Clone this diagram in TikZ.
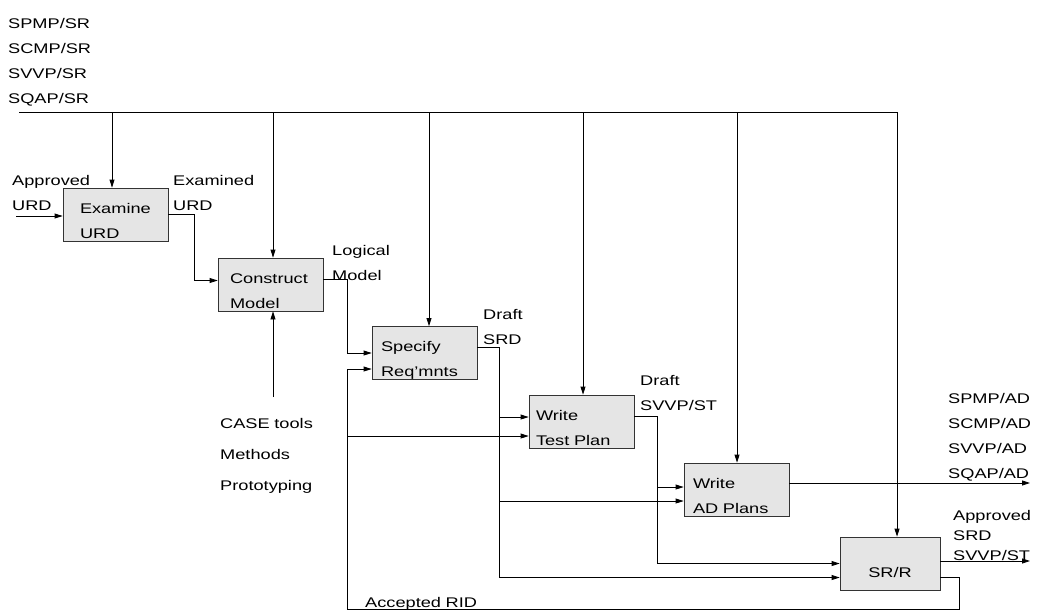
\documentclass[tikz,border=0pt]{standalone}
\usepackage{fontspec}
\setmainfont{Liberation Sans}[FakeStretch=1.3]
\usetikzlibrary{arrows.meta}

\tikzset{
  proc/.style={draw=black!80, fill=black!10, line width=0.8pt, inner ysep=0pt,
    inner xsep=9pt, text width=87pt, align=left, text height=25pt, text depth=28pt},
  lbl/.style={anchor=base west, inner sep=0pt, text width=150pt, align=left},
  wire/.style={line width=0.8pt},
  flow/.style={wire, -{Triangle[length=8pt,width=5pt]}},
}

\begin{document}
\begin{tikzpicture}[x=1pt, y=-1pt, font=\fontsize{14}{25}\selectfont]
  \useasboundingbox (0,0) rectangle (1038,613);
  % activities
  \node[proc, text width=71pt, inner xsep=17pt] (exam) at (115.5,214.5) {Examine\\URD};
  \node[proc, text width=81pt, inner xsep=12pt] (cons) at (270.5,284.5) {Construct\\Model};
  \node[proc] (spec) at (424.5,353) {Specify\\Req'mnts};
  \node[proc, text width=91pt, inner xsep=7pt] (test) at (581.5,421.5) {Write\\Test Plan};
  \node[proc] (adpl) at (736.5,489.5) {Write\\AD Plans};
  \node[proc, text width=100pt, inner xsep=0pt, align=center, text height=40pt,
    text depth=13pt] (srr) at (890,563.5) {SR/R};

  % texts
  \node[lbl] (srplans) at (8,28) {SPMP/SR\\SCMP/SR\\SVVP/SR\\SQAP/SR};
  \node[lbl] (urdin) at (12,185) {Approved\\URD};
  \node[lbl] (urdout) at (173,185) {Examined\\URD};
  \node[lbl] (modout) at (332,255) {Logical\\Model};
  \node[lbl] (srdout) at (483,319) {Draft\\SRD};
  \node[lbl] (stout) at (640,385) {Draft\\SVVP/ST};
  \node[lbl] (adplans) at (948,403) {SPMP/AD\\SCMP/AD\\SVVP/AD\\SQAP/AD};
  \node[lbl, font=\fontsize{14}{20}\selectfont] (srrout) at (953,520) {Approved\\SRD\\SVVP/ST};
  \node[lbl, font=\fontsize{14}{31}\selectfont] (tools) at (220,428) {CASE tools\\Methods\\Prototyping};
  \node[lbl] (rid) at (365,607) {Accepted RID};

  % controls from the SR plans
  \coordinate (busw) at (19,112);
  \coordinate (c1) at (112,112);
  \coordinate (c2) at (273,112);
  \coordinate (c3) at (429,112);
  \coordinate (c4) at (583,112);
  \coordinate (c5) at (737,112);
  \coordinate (c6) at (897,112);
  \draw[wire] (busw) -- (c6);
  \draw[flow] (c1) -- (c1 |- exam.north);
  \draw[flow] (c2) -- (c2 |- cons.north);
  \draw[flow] (c3) -- (c3 |- spec.north);
  \draw[flow] (c4) -- (c4 |- test.north);
  \draw[flow] (c5) -- (c5 |- adpl.north);
  \draw[flow] (c6) -- (c6 |- srr.north);

  % inputs and outputs
  \coordinate (urdstart) at (16,216);
  \draw[flow] (urdstart) -- (urdstart -| exam.west);
  \draw[flow] (exam.east) -- ++(26,0) |- ([yshift=4pt]cons.west);
  \coordinate (toolsup) at (273,397);
  \draw[flow] (toolsup) -- (toolsup |- cons.south);
  \draw[flow] ([yshift=5pt]cons.east) -- ++(24,0) |- (spec.west);

  \coordinate (testin1) at ([yshift=4.5pt]test.west);
  \coordinate (testin2) at ([yshift=-14.5pt]test.west);
  \coordinate (adin1) at ([yshift=2.5pt]adpl.west);
  \coordinate (adin2) at ([yshift=-11.5pt]adpl.west);
  \draw[flow] ([yshift=6pt]spec.east) -- ++(22,0) coordinate (srdx) |- ([yshift=-14pt]srr.west);
  \draw[flow] (srdx |- testin1) -- (testin1);
  \draw[flow] (srdx |- adin2) -- (adin2);
  \draw[flow] ([yshift=5.5pt]test.east) -- ++(23,0) coordinate (stx) |- (srr.west);
  \draw[flow] (stx |- adin1) -- (adin1);

  \coordinate (adend) at (1030,483);
  \coordinate (srrend) at (1030,561);
  \draw[flow] ([yshift=6.5pt]adpl.east) -- (adend);
  \draw[flow] ([yshift=2.5pt]srr.east) -- (srrend);

  % review loop
  \coordinate (ridcorner) at (347,609);
  \draw[flow] ([yshift=-13.5pt]srr.east) -- ++(19,0) |- (ridcorner) |- ([yshift=-16pt]spec.west);
  \draw[flow] (ridcorner |- testin2) -- (testin2);
\end{tikzpicture}
\end{document}
